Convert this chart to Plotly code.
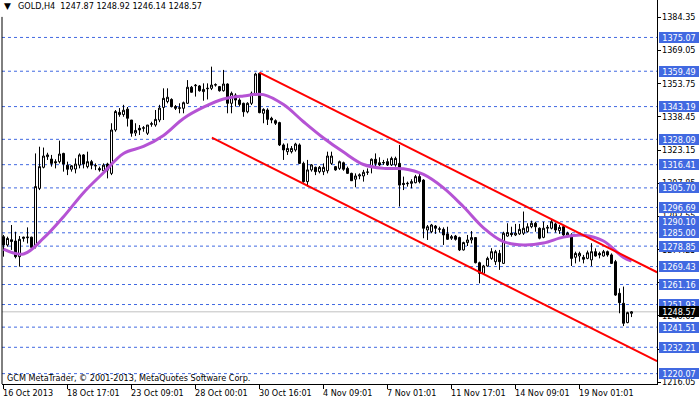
import plotly.graph_objects as go

# ---------------- data ----------------
opens = [1283.2, 1279.4, 1281.8, 1281.2, 1274.0, 1283.0, 1282.7, 1283.0, 1278.6, 1305.5,
         1315.2, 1320.1, 1319.0, 1317.8, 1317.8, 1321.6, 1316.2, 1314.3, 1314.4, 1316.2,
         1320.9, 1315.5, 1317.8, 1316.0, 1314.6, 1313.6, 1316.7, 1312.4, 1332.4, 1340.5,
         1339.5, 1342.0, 1337.0, 1331.0, 1333.2, 1333.2, 1330.9, 1335.0, 1334.7, 1337.0,
         1342.8, 1345.5, 1346.5, 1343.2, 1342.4, 1342.4, 1344.7, 1352.1, 1352.8, 1352.7,
         1350.1, 1351.4, 1351.6, 1353.1, 1352.4, 1350.5, 1353.6, 1344.7, 1348.5, 1346.2,
         1344.7, 1340.8, 1344.7, 1348.5, 1358.5, 1340.1, 1341.6, 1337.8, 1336.7, 1335.8,
         1325.5, 1322.4, 1322.4, 1323.2, 1325.5, 1317.0, 1308.6, 1314.0, 1315.2, 1313.2,
         1313.2, 1313.6, 1317.0, 1315.5, 1314.7, 1317.3, 1314.7, 1312.4, 1309.7, 1311.2,
         1311.2, 1312.9, 1315.8, 1318.9, 1317.3, 1317.2, 1317.8, 1316.3, 1316.3, 1317.0,
         1307.8, 1307.6, 1307.8, 1308.1, 1310.9, 1309.3, 1286.3, 1285.5, 1288.1, 1286.6,
         1286.6, 1284.5, 1282.5, 1283.5, 1282.8, 1277.1, 1280.5, 1281.7, 1282.8, 1271.2,
         1266.3, 1269.7, 1273.2, 1271.7, 1275.5, 1270.9, 1283.5, 1284.8, 1284.0, 1284.5,
         1284.8, 1285.5, 1287.8, 1289.4, 1287.1, 1282.9, 1287.1, 1287.1, 1289.1, 1286.0,
         1287.8, 1284.0, 1284.0, 1273.7, 1274.3, 1273.7, 1273.2, 1272.5, 1276.3, 1275.5,
         1274.3, 1276.3, 1274.8, 1271.7, 1257.1, 1252.5, 1243.6, 1247.87]
highs = [1284.0, 1283.2, 1288.6, 1285.5, 1283.5, 1283.2, 1287.5, 1283.2, 1321.6, 1324.7,
         1324.3, 1321.9, 1320.9, 1318.9, 1327.5, 1321.9, 1317.8, 1316.2, 1319.3, 1321.6,
         1321.3, 1322.4, 1318.6, 1317.0, 1315.5, 1317.0, 1317.3, 1335.5, 1341.6, 1342.5,
         1344.0, 1343.0, 1337.0, 1335.5, 1334.7, 1334.2, 1334.7, 1336.2, 1341.6, 1344.0,
         1351.6, 1351.6, 1347.0, 1343.9, 1344.7, 1345.5, 1355.4, 1352.7, 1353.6, 1353.1,
         1353.9, 1353.9, 1361.6, 1353.9, 1352.7, 1360.1, 1353.9, 1350.1, 1349.3, 1347.0,
         1345.0, 1345.2, 1350.1, 1358.8, 1358.8, 1342.4, 1342.4, 1338.5, 1337.3, 1336.2,
         1326.2, 1326.2, 1325.0, 1326.5, 1326.2, 1317.8, 1318.6, 1316.7, 1315.5, 1315.8,
         1317.0, 1322.4, 1322.4, 1315.8, 1318.3, 1317.8, 1315.5, 1312.7, 1312.4, 1312.4,
         1314.0, 1314.7, 1319.3, 1321.6, 1319.8, 1318.6, 1319.3, 1320.1, 1320.1, 1325.5,
         1310.9, 1308.6, 1309.7, 1311.7, 1312.4, 1309.7, 1288.6, 1289.1, 1288.6, 1287.8,
         1287.5, 1287.8, 1284.0, 1284.0, 1283.2, 1280.9, 1284.0, 1285.8, 1283.0, 1271.7,
         1270.2, 1274.0, 1277.9, 1277.1, 1277.1, 1285.5, 1289.4, 1287.8, 1289.1, 1289.1,
         1294.8, 1289.4, 1290.6, 1290.1, 1287.5, 1290.1, 1288.6, 1290.9, 1289.7, 1288.6,
         1288.1, 1285.5, 1284.8, 1276.3, 1276.3, 1274.8, 1276.8, 1280.2, 1277.8, 1276.3,
         1277.1, 1276.8, 1275.5, 1272.5, 1259.4, 1260.2, 1248.6, 1248.92]
lows = [1274.0, 1278.6, 1277.1, 1273.2, 1269.4, 1280.9, 1280.1, 1277.8, 1277.8, 1304.7,
        1314.7, 1318.6, 1315.5, 1314.7, 1317.0, 1313.2, 1311.6, 1313.2, 1312.4, 1314.7,
        1314.7, 1314.7, 1314.3, 1313.9, 1313.2, 1313.2, 1310.1, 1311.6, 1331.6, 1338.5,
        1338.5, 1334.0, 1329.3, 1329.6, 1330.1, 1331.6, 1330.1, 1333.9, 1333.9, 1336.0,
        1337.0, 1344.7, 1342.8, 1341.6, 1340.1, 1340.1, 1344.4, 1349.6, 1347.8, 1350.1,
        1345.9, 1346.5, 1350.8, 1352.4, 1350.1, 1350.1, 1340.1, 1340.1, 1343.2, 1343.2,
        1338.5, 1340.1, 1343.9, 1348.1, 1340.1, 1335.5, 1334.7, 1335.5, 1334.7, 1325.0,
        1318.6, 1320.9, 1321.6, 1322.4, 1316.7, 1308.1, 1306.3, 1313.2, 1311.6, 1312.4,
        1311.6, 1312.4, 1316.3, 1313.6, 1314.0, 1313.6, 1312.1, 1308.9, 1306.0, 1309.7,
        1308.6, 1311.7, 1312.4, 1315.5, 1315.8, 1316.3, 1315.8, 1315.8, 1315.5, 1297.1,
        1304.7, 1306.3, 1305.5, 1307.8, 1307.8, 1282.5, 1281.7, 1284.8, 1284.5, 1285.1,
        1279.4, 1281.7, 1281.7, 1281.4, 1276.6, 1276.8, 1278.9, 1280.1, 1270.9, 1261.7,
        1265.9, 1269.4, 1272.5, 1270.2, 1267.9, 1270.6, 1283.2, 1283.2, 1283.5, 1284.0,
        1284.0, 1285.1, 1287.1, 1285.5, 1282.0, 1282.5, 1284.8, 1286.6, 1285.1, 1284.5,
        1283.5, 1282.9, 1269.7, 1270.9, 1271.7, 1270.9, 1272.8, 1269.7, 1274.0, 1273.2,
        1274.0, 1274.0, 1270.6, 1255.9, 1247.9, 1242.0, 1243.3, 1246.14]
closes = [1279.4, 1282.4, 1281.0, 1274.0, 1282.0, 1282.5, 1283.0, 1278.3, 1306.3, 1315.5,
          1320.4, 1320.9, 1317.0, 1317.3, 1321.3, 1316.7, 1314.3, 1315.9, 1316.7, 1320.9,
          1316.7, 1317.8, 1316.2, 1315.9, 1314.0, 1316.2, 1313.9, 1332.4, 1340.9, 1339.5,
          1341.5, 1337.8, 1330.9, 1332.2, 1332.4, 1333.4, 1334.7, 1335.3, 1337.3, 1342.5,
          1347.0, 1347.5, 1343.2, 1342.4, 1342.6, 1345.0, 1352.1, 1349.8, 1353.0, 1350.5,
          1351.1, 1351.6, 1353.1, 1353.3, 1350.5, 1353.6, 1344.7, 1349.3, 1346.2, 1344.2,
          1340.8, 1344.7, 1349.3, 1358.2, 1340.4, 1341.9, 1337.3, 1337.0, 1335.5, 1325.5,
          1323.2, 1323.9, 1323.9, 1325.9, 1317.0, 1308.6, 1314.0, 1316.3, 1313.2, 1315.2,
          1315.2, 1320.4, 1320.4, 1314.0, 1317.8, 1314.3, 1312.4, 1309.0, 1311.2, 1311.7,
          1312.9, 1313.0, 1318.9, 1317.0, 1316.3, 1317.4, 1316.3, 1319.3, 1319.3, 1307.0,
          1307.3, 1307.8, 1308.6, 1310.9, 1308.6, 1287.1, 1287.8, 1288.6, 1287.1, 1286.8,
          1284.0, 1282.0, 1283.2, 1282.0, 1277.1, 1280.5, 1281.7, 1282.8, 1271.2, 1266.3,
          1269.7, 1273.2, 1276.3, 1276.3, 1271.7, 1284.8, 1285.1, 1284.2, 1284.8, 1286.6,
          1287.1, 1287.8, 1289.4, 1287.8, 1282.5, 1287.1, 1287.5, 1290.1, 1286.3, 1287.5,
          1284.0, 1284.8, 1273.2, 1275.5, 1275.5, 1272.8, 1275.8, 1276.3, 1274.3, 1274.8,
          1276.3, 1274.8, 1270.9, 1256.3, 1252.8, 1243.3, 1248.2, 1248.57]

# moving average read at every fifth bar
ma_bars = [0, 5, 10, 15, 20, 25, 30, 35, 40, 45, 50, 55, 60, 65, 70, 75, 80, 85, 90, 95,
           100, 105, 110, 115, 120, 125, 130, 135, 140, 145, 150, 155, 157]
ma_values = [1277.5, 1275.2, 1282.5, 1292.4, 1303.5, 1312.7, 1321.6, 1324.8, 1329.9, 1337.7,
             1342.9, 1346.7, 1348.1, 1348.7, 1344.1, 1336.2, 1328.7, 1322.2, 1316.5, 1314.7,
             1314.5, 1311.9, 1305.7, 1297.0, 1287.3, 1280.9, 1279.4, 1280.3, 1283.0, 1283.9,
             1281.2, 1273.6, 1272.0]

# channel trend lines (bar index, price)
upper_bars = [64, 163.4]
upper_prices = [1358.8, 1266.8]
lower_bars = [52.1, 163.4]
lower_prices = [1328.85, 1225.8]

levels = [1375.07, 1359.49, 1343.19, 1328.09, 1316.41, 1305.70, 1296.69, 1290.10,
          1285.00, 1278.85, 1269.43, 1261.16, 1251.93, 1241.51, 1232.21, 1220.07]
current_price = 1248.57

price_ticks = [1384.35, 1369.05, 1353.75, 1338.45, 1323.15, 1307.85, 1292.55, 1277.25,
               1261.95, 1246.65, 1231.35, 1216.05]
# tick labels that are fully covered by level labels in the reference
hidden_price_labels = [1261.95, 1231.35]
time_tick_bars = [0, 16, 32, 48, 64, 80, 96, 112, 128, 144]
time_tick_labels = ["16 Oct 2013", "18 Oct 17:01", "23 Oct 09:01", "28 Oct 00:01",
                    "30 Oct 16:01", "4 Nov 09:01", "7 Nov 01:01", "11 Nov 17:01",
                    "14 Nov 09:01", "19 Nov 01:01"]

title_text = "GOLD,H4\u00a0\u00a01247.87 1248.92 1246.14 1248.57"
copyright_text = "GCM MetaTrader, \u00a9 2001-2013, MetaQuotes Software Corp."

# ---------------- figure ----------------
FONT = "DejaVu Sans Condensed, DejaVu Sans, sans-serif"
FS = 9
BLUE = "#4169E1"

fig = go.Figure()
bars = list(range(len(opens)))
fig.add_trace(go.Candlestick(
    x=bars, open=opens, high=highs, low=lows, close=closes,
    increasing=dict(fillcolor="white", line=dict(color="black", width=1)),
    decreasing=dict(fillcolor="black", line=dict(color="black", width=1)),
    whiskerwidth=0, hoverinfo="skip", showlegend=False))
fig.add_trace(go.Scatter(x=ma_bars, y=ma_values, mode="lines",
                         line=dict(color="#B553D4", width=3, shape="spline"),
                         hoverinfo="skip", showlegend=False))
fig.add_trace(go.Scatter(x=upper_bars, y=upper_prices, mode="lines",
                         line=dict(color="#FF0000", width=2), hoverinfo="skip", showlegend=False))
fig.add_trace(go.Scatter(x=lower_bars, y=lower_prices, mode="lines",
                         line=dict(color="#FF0000", width=2), hoverinfo="skip", showlegend=False))

shapes = []
for lv in levels:
    shapes.append(dict(type="line", xref="paper", x0=0, x1=1, yref="y", y0=lv, y1=lv,
                       line=dict(color=BLUE, width=1, dash="3px,3px"), layer="below"))
shapes.append(dict(type="line", xref="paper", x0=0, x1=1, yref="y", y0=current_price,
                   y1=current_price, line=dict(color="#C0C0C0", width=1), layer="below"))
# left frame line
shapes.append(dict(type="line", xref="paper", x0=0, x1=0, yref="paper", y0=0, y1=0.956,
                   line=dict(color="black", width=1)))

annotations = []
# price axis labels
for t in price_ticks:
    if t in hidden_price_labels:
        continue
    annotations.append(dict(xref="paper", x=1, xanchor="left", xshift=5, yref="y", y=t,
                            yanchor="middle", text=f"{t:.2f}", showarrow=False,
                            borderpad=0, borderwidth=0,
                            font=dict(color="black", size=FS, family=FONT)))
for lv in levels:
    annotations.append(dict(xref="paper", x=1, xanchor="left", xshift=2, yref="y", y=lv,
                            yanchor="middle", text=f"{lv:.2f}", showarrow=False,
                            bgcolor=BLUE, font=dict(color="white", size=FS, family=FONT),
                            width=40, height=11, borderpad=0, borderwidth=0, align="center"))
annotations.append(dict(xref="paper", x=1, xanchor="left", xshift=2, yref="y", y=current_price,
                        yanchor="middle", text=f"{current_price:.2f}", showarrow=False,
                        bgcolor="black", font=dict(color="white", size=FS, family=FONT),
                        width=40, height=11, borderpad=0, borderwidth=0, align="center"))
# time axis labels
for b, lab in zip(time_tick_bars, time_tick_labels):
    annotations.append(dict(xref="x", x=b, xanchor="left", xshift=-1, yref="paper", y=0,
                            yanchor="top", yshift=-4, text=lab, showarrow=False,
                            borderpad=0, borderwidth=0,
                            font=dict(color="black", size=FS, family=FONT)))
annotations.append(dict(xref="paper", x=0, xanchor="left", xshift=2, yref="paper", y=1,
                        yanchor="top", yshift=-1, text="\u25BC", showarrow=False,
                        borderpad=0, borderwidth=0,
                        font=dict(color="black", size=9, family="DejaVu Sans")))
annotations.append(dict(xref="paper", x=0, xanchor="left", xshift=16, yref="paper", y=1,
                        yanchor="top", yshift=-1, text=title_text, showarrow=False,
                        borderpad=0, borderwidth=0,
                        font=dict(color="black", size=FS, family=FONT)))
annotations.append(dict(xref="paper", x=0, xanchor="left", xshift=5, yref="paper", y=0,
                        yanchor="bottom", yshift=1, text=copyright_text, showarrow=False,
                        borderpad=0, borderwidth=0,
                        font=dict(color="black", size=FS, family=FONT)))

fig.update_layout(
    width=700, height=402,
    margin=dict(l=2, r=43, t=0, b=18),
    paper_bgcolor="white", plot_bgcolor="white",
    boxgap=0.5, boxgroupgap=0,
    shapes=shapes, annotations=annotations,
    font=dict(family=FONT, size=FS, color="black"),
    xaxis=dict(range=[-0.375, 163.375], rangeslider=dict(visible=False),
               tickmode="array", tickvals=time_tick_bars, showticklabels=False,
               ticks="outside", ticklen=4, tickcolor="black", showgrid=False, zeroline=False,
               showline=True, linecolor="black", linewidth=1),
    yaxis=dict(range=[1215.29, 1392.33], side="right", tickmode="array",
               tickvals=price_ticks, showticklabels=False,
               ticks="outside", ticklen=3, tickcolor="black", showgrid=False, zeroline=False,
               showline=True, linecolor="black", linewidth=1),
)

fig.write_html("out.html", config={"displayModeBar": False},
               post_script="document.body.style.margin='0';")
